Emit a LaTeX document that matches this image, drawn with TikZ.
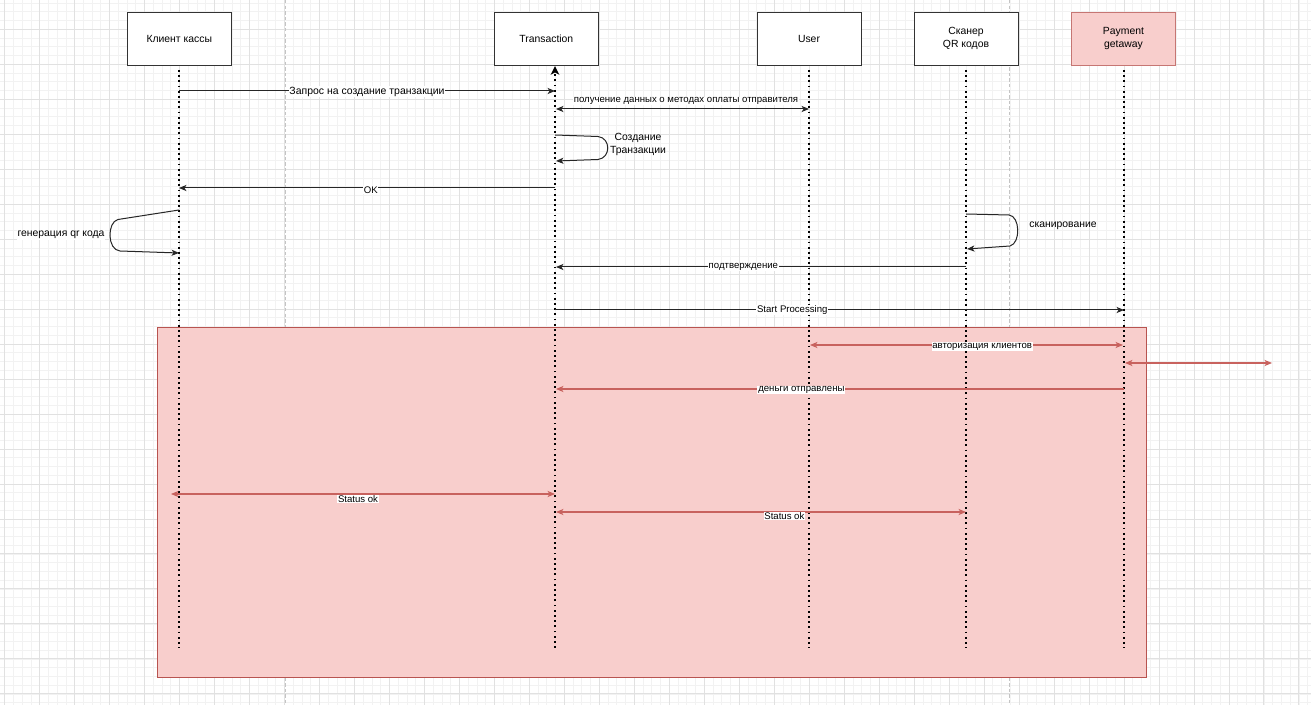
\documentclass[tikz,border=0pt]{standalone}
\usepackage{fontspec}
\setmainfont{Liberation Sans}
\usetikzlibrary{arrows.meta}
\definecolor{pinkfill}{HTML}{F8CECC}
\definecolor{redstroke}{HTML}{B85450}
\definecolor{redarrow}{HTML}{C8625E}
\definecolor{minorgrid}{HTML}{F2F2F2}
\definecolor{majorgrid}{HTML}{E1E1E1}
\definecolor{pagebreak}{HTML}{C4C4C4}
\tikzset{
  actor/.style={draw=black!80, line width=0.75pt, fill=white, minimum width=78pt, minimum height=39.75pt,
    inner sep=0pt, align=center, font=\fontsize{7.8}{9.75}\selectfont},
  redactor/.style={actor, draw=redstroke!80, fill=pinkfill},
  frame/.style={draw=redstroke, fill=pinkfill, line width=0.75pt, minimum width=741.75pt, minimum height=262.5pt,
    inner sep=0pt, anchor=north west},
  lifeline/.style={line width=1.3pt, dash pattern=on 1.3pt off 2.6pt, black},
  toptip/.style={-{Stealth[length=6.5pt,width=6.3pt,inset=1.7pt]}},
  msg/.style={draw=black!85, line width=0.75pt},
  redmsg/.style={draw=redarrow, line width=0.8pt},
  elabel/.style={fill=white, inner sep=0.6pt, font=\fontsize{7.2}{8.6}\selectfont, text=black},
  biglabel/.style={elabel, font=\fontsize{7.85}{9.4}\selectfont},
  llabel/.style={inner sep=0.6pt, align=center, font=\fontsize{7.8}{9.75}\selectfont, text=black},
  pbreak/.style={draw=pagebreak, line width=0.75pt, dash pattern=on 2.6pt off 1.6pt},
  mgrid/.style={draw=minorgrid, line width=0.6pt},
  Mgrid/.style={draw=majorgrid, line width=0.75pt}
}
\begin{document}
\begin{tikzpicture}[x=0.75pt, y=-0.75pt, >={Stealth[length=5.6pt,width=4.6pt,inset=1.5pt]}]
\useasboundingbox (0,0) rectangle (1311,705);
\fill[white] (0,0) rectangle (1311,705);
% grid
\begin{scope}
\clip (0,0) rectangle (1311,705);
\foreach \i in {0,...,150} \draw[mgrid] ({4.7+8.745*\i},0) -- ++(0,705);
\foreach \j in {0,...,81} \draw[mgrid] (0,{3.07+8.745*\j}) -- ++(1311,0);
\foreach \i in {0,...,37} \draw[Mgrid] ({4.7+34.98*\i},0) -- ++(0,705);
\foreach \j in {0,...,20} \draw[Mgrid] (0,{-5.68+34.98*\j}) -- ++(1311,0);
\end{scope}
% page breaks
\coordinate (pb1t) at (285,0); \coordinate (pb1b) at (285,705);
\coordinate (pb2t) at (1009,0); \coordinate (pb2b) at (1009,705);
\draw[pbreak] (pb1t) -- (pb1b);
\draw[pbreak] (pb2t) -- (pb2b);
% frame
\node[frame] (fr) at (157,327) {};
% actors
\node[actor] (cl) at (179.3,38.8) {Клиент кассы};
\node[actor] (tr) at (546.3,38.8) {Transaction};
\node[actor] (us) at (809,38.8) {User};
\node[actor] (sc) at (966,38.8) {Сканер\\QR кодов};
\node[redactor] (pg) at (1123.5,38.8) {Payment\\getaway};
% lifelines
\coordinate (clT) at (179,70);  \coordinate (clB) at (179,648);
\coordinate (trT) at (555,66);  \coordinate (trB) at (555,648);
\coordinate (usT) at (809,70);  \coordinate (usB) at (809,648);
\coordinate (scT) at (966,70);  \coordinate (scB) at (966,648);
\coordinate (pgT) at (1124,70); \coordinate (pgB) at (1124,648);
\draw[lifeline] (clT) -- (clB);
\draw[lifeline, toptip] (trB) -- (trT);
\draw[lifeline] (usT) -- (usB);
\draw[lifeline] (scT) -- (scB);
\draw[lifeline] (pgT) -- (pgB);
% message anchors
\coordinate (cl91) at (179,91);   \coordinate (tr91) at (555,91);
\coordinate (tr109) at (556,109); \coordinate (us109) at (809,109);
\coordinate (tr135) at (555,135); \coordinate (tr161) at (556,161);
\coordinate (tr188) at (555,188); \coordinate (cl188) at (179,188);
\coordinate (cl210) at (179,210); \coordinate (cl253) at (179,253);
\coordinate (sc214) at (966,214); \coordinate (sc249) at (967,249);
\coordinate (sc267) at (966,267); \coordinate (tr267) at (556,267);
\coordinate (tr310) at (555,310); \coordinate (pg310) at (1124,310);
\coordinate (us345) at (810,345); \coordinate (pg345) at (1123,345);
\coordinate (pg363) at (1125,363); \coordinate (rt363) at (1272,363);
\coordinate (pg389) at (1124,389); \coordinate (tr389) at (556,389);
\coordinate (cl494) at (171,494); \coordinate (tr494) at (555,494);
\coordinate (tr512) at (556,512); \coordinate (sc512) at (966,512);
% black messages
\draw[msg, ->] (cl91) -- node[biglabel, pos=0.5, yshift=-0.6pt] (l1) {Запрос на создание транзакции} (tr91);
\draw[msg, <->] (tr109) -- (us109);
\node[elabel] (l2) at (686,101) {получение данных о методах оплаты отправителя};
\draw[msg, ->] (tr135) -- (598,136.5) .. controls (611,138) and (611,158) .. (598,159.5) -- (tr161);
\node[llabel] (l3) at (638,144) {Создание\\Транзакции};
\draw[msg, ->] (tr188) -- node[elabel, pos=0.49, yshift=-1.5pt] (l4) {OK} (cl188);
\draw[msg, ->] (cl210) -- (118,219.5) .. controls (107,222) and (107,250) .. (120,251) -- (cl253);
\node[llabel, fill=white] (l5) at (61,235) {генерация qr кода};
\draw[msg, ->] (sc214) -- (1009,215) .. controls (1020,216) and (1021,243) .. (1010,246) -- (sc249);
\node[llabel] (l6) at (1063,226) {сканирование};
\draw[msg, ->] (sc267) -- node[elabel, pos=0.543] (l7) {подтверждение} (tr267);
\draw[msg, ->] (tr310) -- node[elabel, pos=0.417] (l8) {Start Processing} (pg310);
% red messages
\draw[redmsg, <->] (us345) -- node[elabel, pos=0.55, yshift=-1.2pt] (l9) {авторизация клиентов} (pg345);
\draw[redmsg, <->] (pg363) -- (rt363);
\draw[redmsg, ->] (pg389) -- node[elabel, pos=0.568, yshift=-0.8pt] (l10) {деньги отправлены} (tr389);
\draw[redmsg, <->] (cl494) -- node[elabel, pos=0.487, yshift=-3.7pt] (l11) {Status ok} (tr494);
\draw[redmsg, <->] (tr512) -- node[elabel, pos=0.557, yshift=-3pt] (l12) {Status ok} (sc512);
\end{tikzpicture}
\end{document}
